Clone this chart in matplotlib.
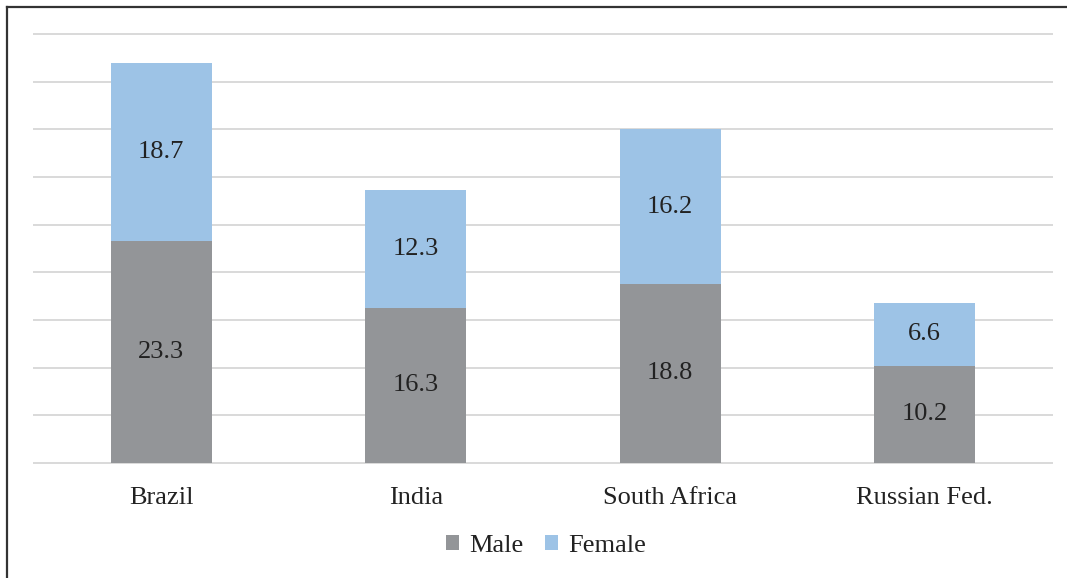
import matplotlib.pyplot as plt
import numpy as np
from matplotlib.lines import Line2D

plt.rcParams['font.family'] = ['Liberation Serif', 'DejaVu Serif']

countries = ['Brazil', 'India', 'South Africa', 'Russian Fed.']
male = [23.3, 16.3, 18.8, 10.2]
female = [18.7, 12.3, 16.2, 6.6]

male_color = '#939598'
female_color = '#9dc3e6'

fig = plt.figure(figsize=(10.67, 5.78), dpi=100)
ax = fig.add_axes([34 / 1067, 1 - 463 / 578, 1018 / 1067, 429 / 578])

x = np.arange(len(countries))
w = 0.396
b1 = ax.bar(x, male, w, color=male_color, label='Male', zorder=3)
b2 = ax.bar(x, female, w, bottom=male, color=female_color, label='Female', zorder=3)

for i in range(len(countries)):
    ax.text(x[i], male[i] / 2, f'{male[i]:.1f}', ha='center', va='center',
            fontsize=19, color='#222222', zorder=4)
    ax.text(x[i], male[i] + female[i] / 2, f'{female[i]:.1f}', ha='center', va='center',
            fontsize=19, color='#222222', zorder=4)

ax.set_xlim(-0.5, 3.5)
ax.set_ylim(0, 45)
ax.set_yticks(np.arange(0, 46, 5))
ax.yaxis.grid(True, color='#d9d9d9', linewidth=1.4, zorder=0)
for gl in ax.get_ygridlines():
    gl.set_clip_on(False)
ax.tick_params(axis='y', left=False, labelleft=False)
ax.tick_params(axis='x', bottom=False, labelsize=19, pad=14, colors='#222222')
ax.set_xticks(x)
ax.set_xticklabels(countries)
for s in ax.spines.values():
    s.set_visible(False)

fig.legend(handles=[b1, b2], loc='center', bbox_to_anchor=(546 / 1067, 1 - 546 / 578),
           ncol=2, frameon=False, fontsize=19, handlelength=0.5, handleheight=0.5,
           handletextpad=0.4, columnspacing=0.8, labelcolor='#222222')

# frame on top and left edges
fig.add_artist(Line2D([7 / 1067, 7 / 1067], [0, 1 - 7 / 578], color='#333333', lw=1.6))
fig.add_artist(Line2D([7 / 1067, 1], [1 - 7 / 578, 1 - 7 / 578], color='#333333', lw=1.6))

fig.savefig('out.png', dpi=100)
